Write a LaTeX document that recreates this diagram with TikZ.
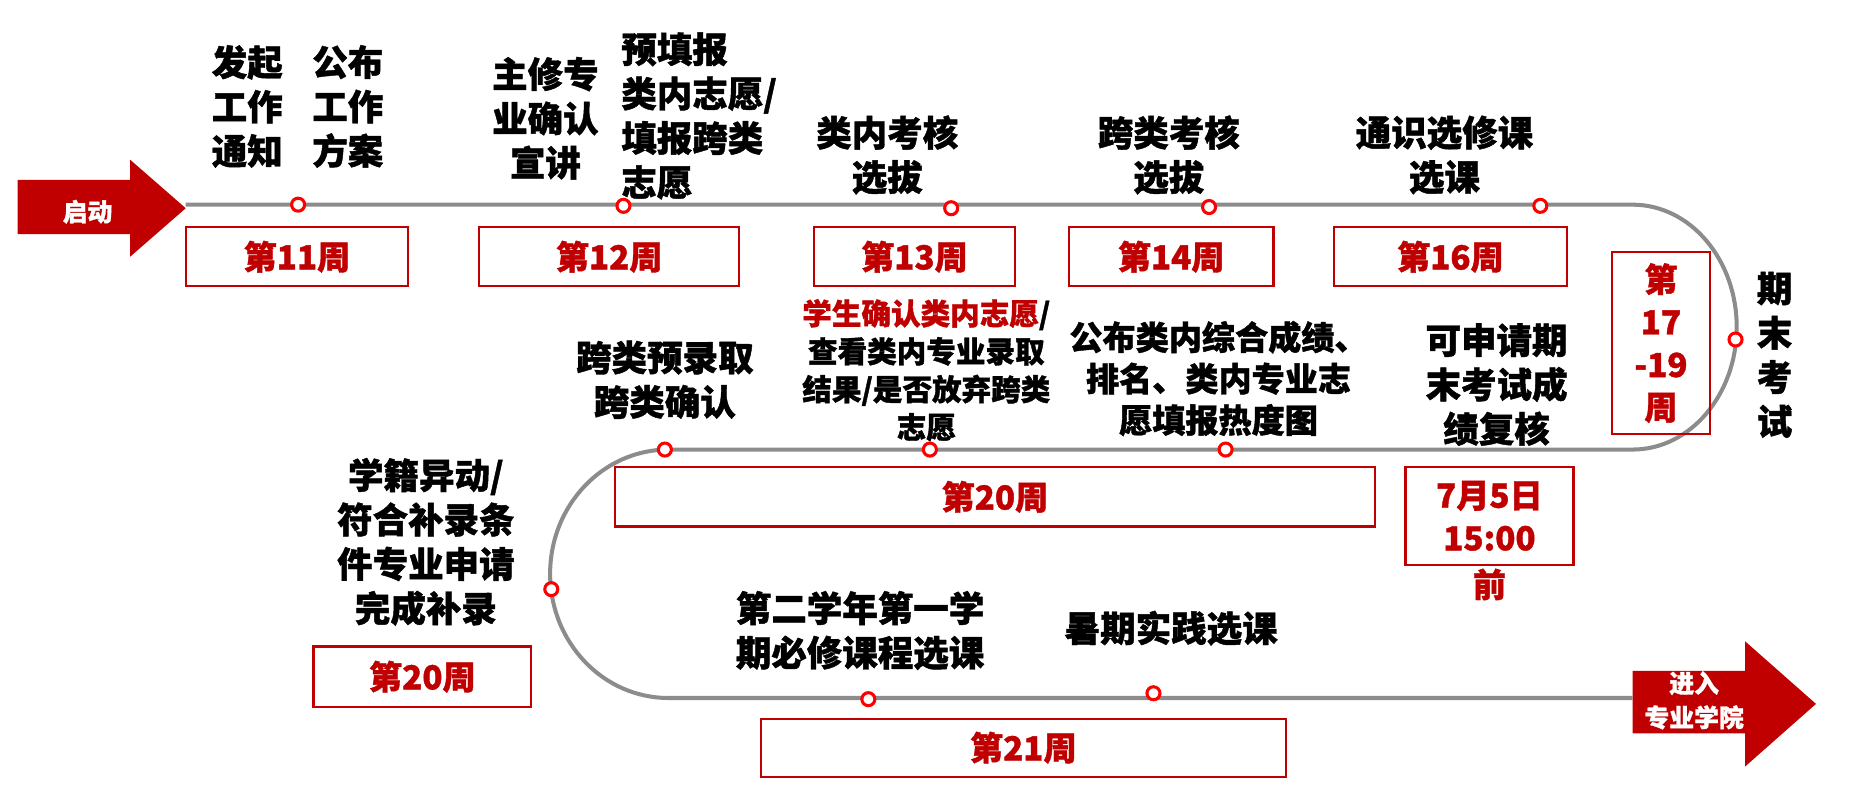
\documentclass[tikz,border=0pt]{standalone}
\usepackage{fontspec}
\setmainfont{Noto Sans CJK SC}[BoldFeatures={FakeBold=1.2}]
\definecolor{dred}{HTML}{C00000}
\definecolor{mred}{HTML}{FF0000}
\definecolor{trackgray}{HTML}{8C8C8C}
\begin{document}
\begin{tikzpicture}[x=1pt,y=-1pt,
  txt/.style={font=\fontsize{30}{37.5}\selectfont\bfseries, align=center, inner sep=0pt, text=black},
  wk/.style={draw=dred, line width=1.8pt, text=dred, font=\fontsize{28}{36}\selectfont\bfseries, inner sep=0pt, align=center},
  dot/.style={circle, draw=mred, fill=white, line width=2.6pt, minimum size=11pt, inner sep=0pt},
  arr/.style={fill=dred, draw=none},
  arrtxt/.style={text=white, font=\fontsize{21}{29}\selectfont\bfseries, align=center, inner sep=0pt},
  track/.style={draw=trackgray, line width=3.4pt}]
\useasboundingbox (0,0) rectangle (1568,680);
% arrows
\fill[arr] (15,152) -- (110,152) -- (110,135) -- (157,176) -- (110,217) -- (110,198) -- (15,198) -- cycle;
\node[arrtxt] (start) at (74,179) {启动};
\fill[arr] (1380,567) -- (1475,567) -- (1475,542) -- (1535,595) -- (1475,648) -- (1475,620) -- (1380,620) -- cycle;
\node[arrtxt] (finish) at (1432,592) {进入\\专业学院};
\coordinate (tstart) at (157,173);
\coordinate (tend) at (1380,590);
% track
\draw[track] (tstart) -- (1380,173) arc[start angle=-90, end angle=90, x radius=88, y radius=103.5]
  -- (565,380) arc[start angle=-90, end angle=-270, x radius=100, y radius=105] -- (tend);
% markers
\node[dot] (m1) at (252,173) {};
\node[dot] (m2) at (527,174) {};
\node[dot] (m3) at (804,176) {};
\node[dot] (m4) at (1022,175) {};
\node[dot] (m5) at (1302,174) {};
\node[dot] (m6) at (1467,287) {};
\node[dot] (m7) at (1036,380) {};
\node[dot] (m8) at (786,380) {};
\node[dot] (m9) at (562,380) {};
\node[dot] (m10) at (466,498) {};
\node[dot] (m11) at (734,591) {};
\node[dot] (m12) at (975,586) {};
% week boxes
\node[wk, minimum width=188pt, minimum height=50pt] (w11) at (251,217) {第11周};
\node[wk, minimum width=220pt, minimum height=50pt] (w12) at (515,217) {第12周};
\node[wk, minimum width=170pt, minimum height=50pt] (w13) at (773,217) {第13周};
\node[wk, minimum width=173pt, minimum height=50pt] (w14) at (990,217) {第14周};
\node[wk, minimum width=197pt, minimum height=50pt] (w16) at (1226,217) {第16周};
\node[wk, minimum width=83pt, minimum height=154pt] (w17) at (1404,290) {第\\17\\-19\\周};
\node[wk, minimum width=643pt, minimum height=50pt] (w20a) at (841,420) {第20周};
\node[wk, minimum width=142pt, minimum height=83pt] (d75) at (1259,436) {7月5日\\15:00};
\node[text=dred, font=\fontsize{28}{36}\selectfont\bfseries, inner sep=0pt] (qian) at (1259,494) {前};
\node[wk, minimum width=184pt, minimum height=51pt] (w20b) at (357,572) {第20周};
\node[wk, minimum width=444pt, minimum height=49pt] (w21) at (865,632) {第21周};
% texts
\node[txt, align=left] (t1) at (209,90) {发起\\工作\\通知};
\node[txt, align=left] (t2) at (294,90) {公布\\工作\\方案};
\node[txt] (t3) at (461,100) {主修专\\业确认\\宣讲};
\node[txt, align=left, anchor=west] (t4) at (525,98) {预填报\\类内志愿/\\填报跨类\\志愿};
\node[txt] (t5) at (750,131) {类内考核\\选拔};
\node[txt] (t6) at (988,131) {跨类考核\\选拔};
\node[txt] (t7) at (1221,131) {通识选修课\\选课};
\node[txt] (t8) at (1500,300) {期\\末\\考\\试};
\node[txt] (t9) at (562,321) {跨类预录取\\跨类确认};
\node[txt, font=\fontsize{25}{32}\selectfont\bfseries] (t10) at (783,313) {{\color{dred}学生确认类内志愿}/\\查看类内专业录取\\结果/是否放弃跨类\\志愿};
\node[txt, font=\fontsize{28}{35}\selectfont\bfseries] (t11) at (1030,320) {公布类内综合成绩、\\排名、类内专业志\\愿填报热度图};
\node[txt] (t12) at (1265,325) {可申请期\\末考试成\\绩复核};
\node[txt] (t13) at (360,458) {学籍异动/\\符合补录条\\件专业申请\\完成补录};
\node[txt] (t14) at (727,533) {第二学年第一学\\期必修课程选课};
\node[txt] (t15) at (990,531) {暑期实践选课};
\end{tikzpicture}
\end{document}
